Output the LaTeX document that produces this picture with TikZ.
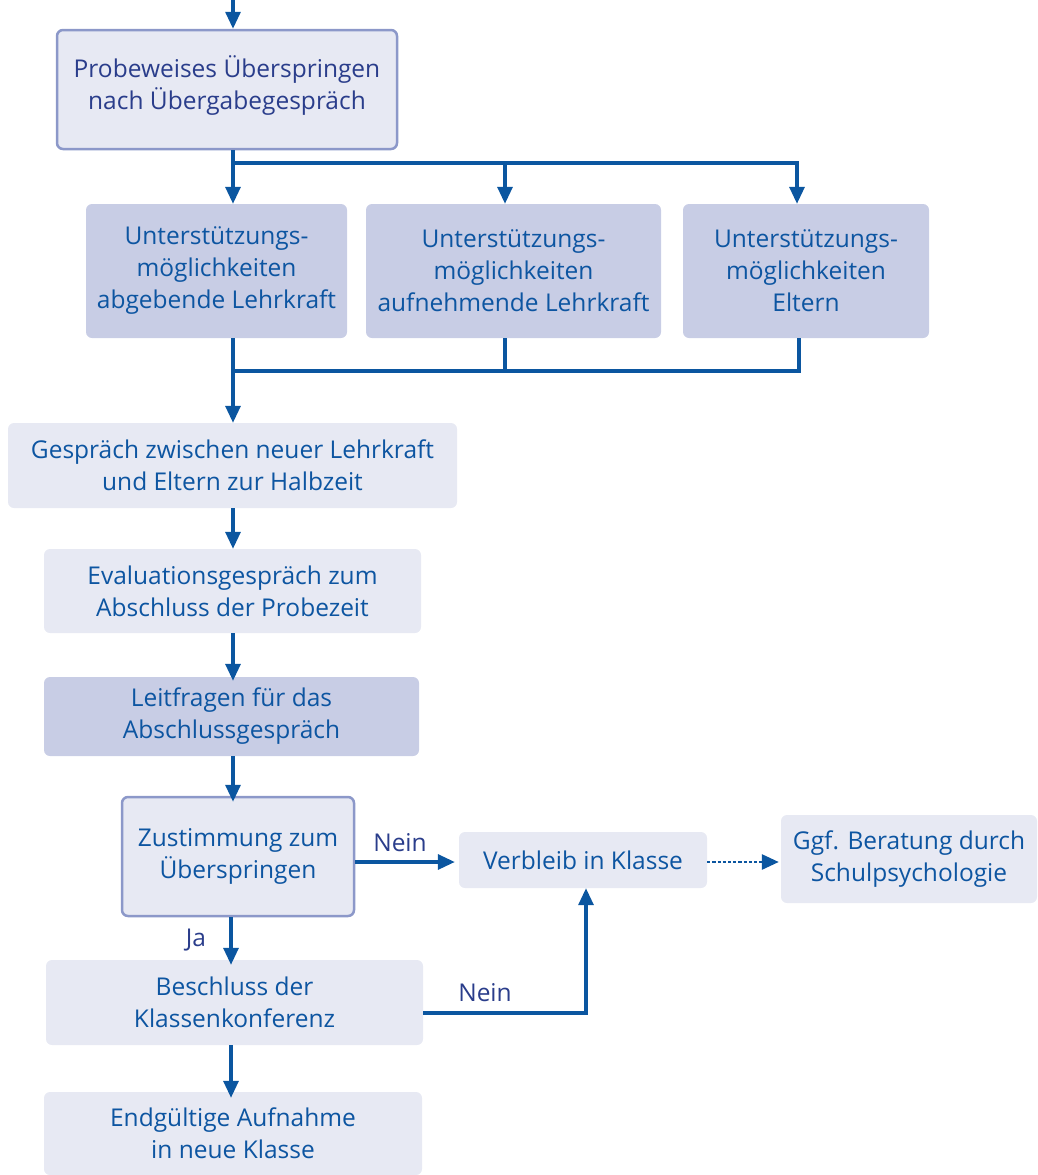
\documentclass[tikz,border=0pt]{standalone}
\usepackage{fontspec}
\setmainfont{Open Sans}
\usetikzlibrary{arrows.meta,calc}
\definecolor{lineblue}{HTML}{0B56A0}
\definecolor{txtblue}{HTML}{0D55A1}
\definecolor{navy}{HTML}{2A3D8B}
\definecolor{lightbox}{HTML}{E7E9F3}
\definecolor{darkbox}{HTML}{C8CDE5}
\definecolor{boxborder}{HTML}{8C98C9}
\begin{document}
\begin{tikzpicture}[x=1pt,y=-1pt,
  base/.style={rounded corners=6pt, align=center, text=txtblue, font=\fontsize{24.5}{32}\selectfont, inner sep=0pt},
  light/.style={base, fill=lightbox},
  dark/.style={base, fill=darkbox},
  framed/.style={base, fill=lightbox, draw=boxborder, line width=2.5pt},
  conn/.style={draw=lineblue, line width=3.2pt},
  arr/.style={conn, -{Triangle[length=17pt,width=15pt]}},
  lbl/.style={text=navy, font=\fontsize{24.5}{28}\selectfont, inner sep=0pt}]
\useasboundingbox (0,0) rectangle (1037,1175);

\node[framed, text=navy, minimum width=340pt, minimum height=119pt] (p) at (227,89.5) {Probeweises Überspringen\\nach Übergabegespräch\\[-18pt]};
\node[dark, minimum width=261pt, minimum height=134pt] (a) at (216.5,271) {Unterstützungs-\\möglichkeiten\\abgebende Lehrkraft};
\node[dark, minimum width=295pt, minimum height=134pt] (b) at (513.5,271) {Unterstützungs-\\möglichkeiten\\aufnehmende Lehrkraft};
\node[dark, minimum width=246pt, minimum height=134pt] (c) at (806,271) {Unterstützungs-\\möglichkeiten\\Eltern};
\node[light, minimum width=449pt, minimum height=85pt] (g) at (232.5,465.5) {Gespräch zwischen neuer Lehrkraft\\und Eltern zur Halbzeit};
\node[light, minimum width=377pt, minimum height=84pt] (e) at (232.5,591) {Evaluationsgespräch zum\\Abschluss der Probezeit};
\node[dark, minimum width=375pt, minimum height=79pt] (l) at (231.5,716.5) {Leitfragen für das\\Abschlussgespräch};
\node[framed, minimum width=232pt, minimum height=119pt] (z) at (238,856.5) {Zustimmung zum\\Überspringen};
\node[light, minimum width=248pt, minimum height=56pt] (v) at (583,860) {Verbleib in Klasse};
\node[light, minimum width=256pt, minimum height=88pt] (s) at (909,859) {Ggf. Beratung durch\\Schulpsychologie};
\node[light, minimum width=377pt, minimum height=85pt] (k) at (234.5,1002.5) {Beschluss der\\Klassenkonferenz};
\node[light, minimum width=378pt, minimum height=83pt] (f) at (233,1133.5) {Endgültige Aufnahme\\in neue Klasse};

\node[lbl] (ja) at (196,940) {Ja};
\node[lbl] (n1) at (400,843) {Nein};
\node[lbl] (n2) at (485,993) {Nein};

\coordinate (xA) at (233,0);
\coordinate (xB) at (505,0);
\coordinate (xC) at (797,0);
\coordinate (xC2) at (799,0);
\coordinate (xZ) at (231,0);
\coordinate (xV) at (586,0);
\coordinate (h1) at (0,163);
\coordinate (h2) at (0,371);
\coordinate (hz) at (0,862);
\coordinate (hk) at (0,1013);
\coordinate (top) at (233,0);

\draw[arr] (top) -- (p.north -| xA);
\draw[arr] (p.south -| xA) -- (a.north -| xA);
\draw[arr] (h1 -| xA) -| (b.north -| xB);
\draw[arr] (h1 -| xB) -| (c.north -| xC);
\draw[conn] (a.south -| xA) -- (h2 -| xA);
\draw[conn] (b.south -| xB) |- (h2 -| xA);
\draw[conn] (c.south -| xC2) |- (h2 -| xA);
\draw[arr] (h2 -| xA) -- (g.north -| xA);
\draw[arr] (g.south -| xA) -- (e.north -| xA);
\draw[arr] (e.south -| xA) -- ([yshift=-4pt]l.north -| xA);
\draw[arr] (l.south -| xA) -- ([yshift=-6pt]z.north -| xA);
\draw[arr] (z.south -| xZ) -- ([yshift=-5pt]k.north -| xZ);
\draw[arr] (k.south -| xZ) -- ([yshift=-6pt]f.north -| xZ);
\draw[arr] (z.east |- hz) -- ([xshift=-4pt]v.west |- hz);
\draw[conn, dotted, line width=2.8pt, -{Triangle[length=17pt,width=15pt]}] (v.east |- hz) -- ([xshift=-2pt]s.west |- hz);
\draw[arr] (k.east |- hk) -| (v.south -| xV);
\end{tikzpicture}
\end{document}
